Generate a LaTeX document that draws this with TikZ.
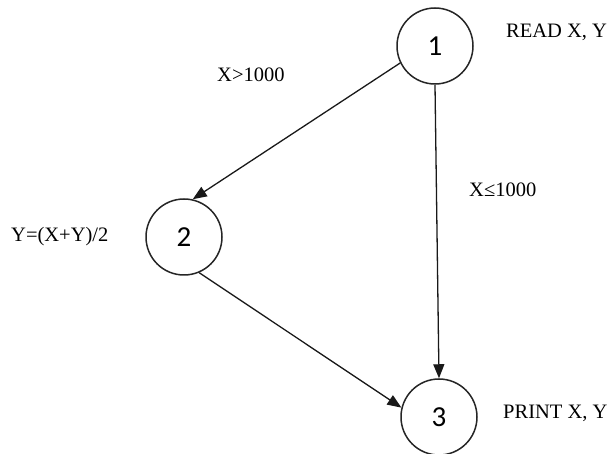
\documentclass[tikz,border=0pt]{standalone}
\usepackage{fontspec}
\setmainfont{Liberation Serif}
\newfontfamily\numfont{Carlito}
\usetikzlibrary{arrows.meta}
\begin{document}
\begin{tikzpicture}[x=1pt,y=-1pt,
  state/.style={draw=black!85,line width=1.5pt,circle,minimum size=76pt,inner sep=0pt,
    font=\numfont\fontsize{29}{29}\selectfont},
  note/.style={anchor=base west,inner sep=0pt,font=\fontsize{20.5}{20.5}\selectfont},
  flow/.style={draw=black!90,line width=1.3pt,-{Triangle[length=14pt,width=11pt]}}]
  \useasboundingbox (0,0) rectangle (616,454);
  % states
  \node[state] (n1) at (435,46) {1};
  \node[state] (n2) at (184,237) {2};
  \node[state] (n3) at (439,417) {3};
  % annotations
  \node[note] (r1) at (506,38) {READ X, Y};
  \node[note] (c2) at (11,242) {Y=(X+Y)/2};
  \node[note] (p3) at (503,418) {PRINT X, Y};
  \node[note] (gt) at (217,82) {X>1000};
  \node[note] (le) at (469,197) {X≤1000};
  % transitions
  \draw[flow] (n1.206) -- (n2.77);
  \draw[flow] (n1.south) -- (n3.north);
  \draw[flow] (n2.-67) -- (n3.166);
\end{tikzpicture}
\end{document}
